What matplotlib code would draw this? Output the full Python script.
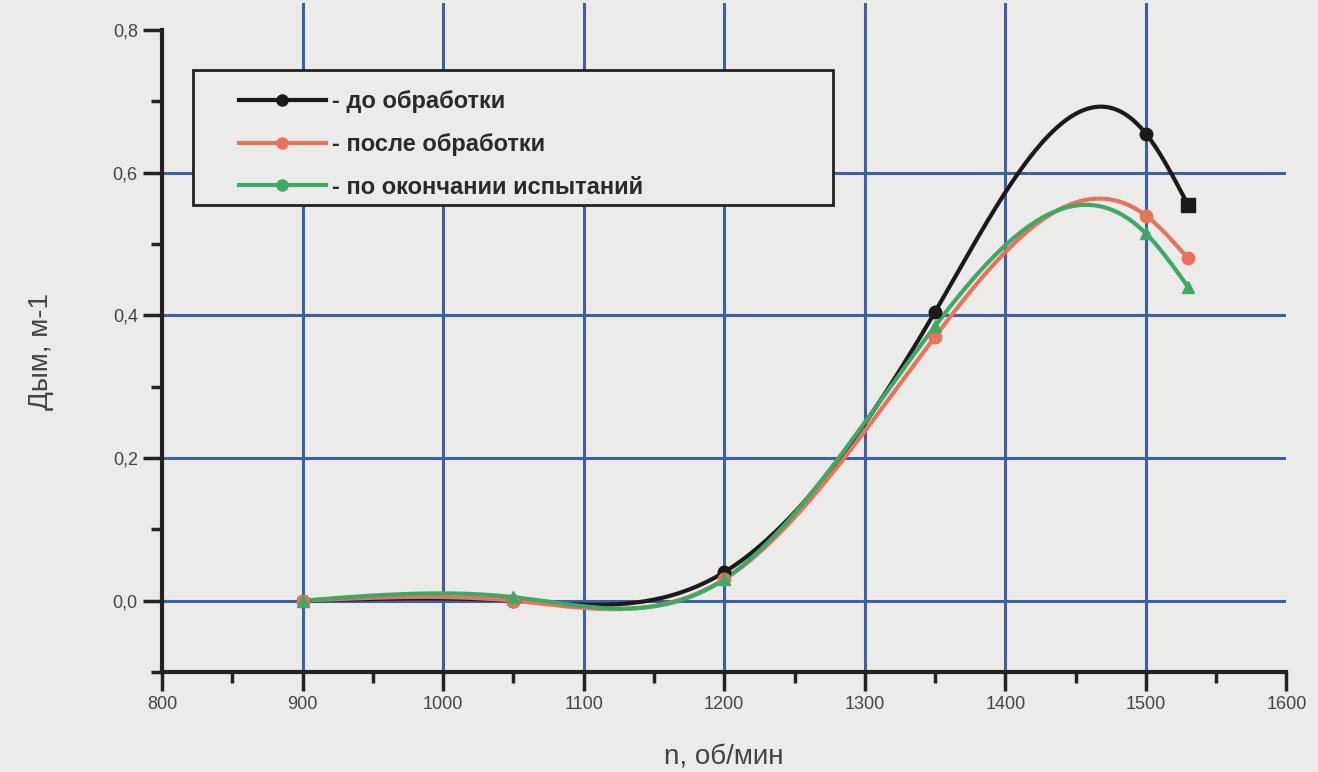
import numpy as np
import matplotlib
matplotlib.use("Agg")
import matplotlib.pyplot as plt
from matplotlib.patches import Rectangle
from matplotlib.ticker import MultipleLocator, FuncFormatter

plt.rcParams['font.family'] = ['Liberation Sans', 'DejaVu Sans']

# частота вращения, об/мин
rpm = [900, 1050, 1200, 1350, 1500, 1530]
# дымность, м-1
smoke_before = [0.0, 0.0, 0.04, 0.405, 0.655, 0.555]
smoke_after = [0.0, 0.0, 0.03, 0.37, 0.54, 0.48]
smoke_end = [0.0, 0.005, 0.03, 0.385, 0.515, 0.44]

labels = ['- до обработки', '- после обработки', '- по окончании испытаний']
colors = ['#1a1a1a', '#e8735c', '#3fa866']
markers = ['o', 'o', '^']

grid_x = [900, 1000, 1100, 1200, 1300, 1400, 1500]
grid_y = [0.0, 0.2, 0.4, 0.6]


def natural_spline(x, y, xs):
    x = np.asarray(x, float)
    y = np.asarray(y, float)
    n = len(x)
    h = np.diff(x)
    A = np.zeros((n, n))
    b = np.zeros(n)
    A[0, 0] = A[-1, -1] = 1
    for i in range(1, n - 1):
        A[i, i - 1] = h[i - 1]
        A[i, i] = 2 * (h[i - 1] + h[i])
        A[i, i + 1] = h[i]
        b[i] = 6 * ((y[i + 1] - y[i]) / h[i] - (y[i] - y[i - 1]) / h[i - 1])
    M = np.linalg.solve(A, b)
    idx = np.clip(np.searchsorted(x, xs) - 1, 0, n - 2)
    x0, x1 = x[idx], x[idx + 1]
    hh = x1 - x0
    t0, t1 = x1 - xs, xs - x0
    return (M[idx] * t0 ** 3 / (6 * hh) + M[idx + 1] * t1 ** 3 / (6 * hh)
            + (y[idx] / hh - M[idx] * hh / 6) * t0
            + (y[idx + 1] / hh - M[idx + 1] * hh / 6) * t1)


bg = '#ebebea'
fig = plt.figure(figsize=(13.18, 7.72), dpi=100, facecolor=bg)
ax = fig.add_axes([0.123, 0.1295, 0.853, 0.8315], facecolor=bg)

# сетка
for gx in grid_x:
    ax.axvline(gx, ymin=0, ymax=1.04, color='#3f5f9f', lw=2.2, zorder=1, clip_on=False)
for gy in grid_y:
    ax.axhline(gy, color='#3f5f9f', lw=2.2, zorder=1)

xs = np.linspace(rpm[0], rpm[-1], 400)
handles = []
for i, (ys, lab, c, m) in enumerate(zip([smoke_before, smoke_after, smoke_end], labels, colors, markers)):
    ax.plot(xs, natural_spline(rpm, ys, xs), color=c, lw=3, zorder=3)
    if i == 0:
        ax.plot(rpm[:-1], ys[:-1], linestyle='none', marker='o', color=c, ms=9, zorder=4)
        ax.plot(rpm[-1:], ys[-1:], linestyle='none', marker='s', color=c, ms=10, zorder=4)
    else:
        ax.plot(rpm, ys, linestyle='none', marker=m, color=c, ms=9, zorder=4)
    h, = ax.plot([], [], color=c, lw=3, marker='o', ms=8, label=lab)
    handles.append(h)

ax.set_xlim(800, 1600)
ax.set_ylim(-0.1, 0.8)
ax.xaxis.set_major_locator(MultipleLocator(100))
ax.xaxis.set_minor_locator(MultipleLocator(50))
ax.yaxis.set_major_locator(MultipleLocator(0.2))
ax.yaxis.set_minor_locator(MultipleLocator(0.1))
ax.yaxis.set_major_formatter(FuncFormatter(lambda v, p: f'{v:.1f}'.replace('.', ',')))

for s in ['top', 'right']:
    ax.spines[s].set_visible(False)
for s in ['left', 'bottom']:
    ax.spines[s].set_linewidth(3)
    ax.spines[s].set_color('#222222')
    ax.spines[s].set_zorder(5)

ax.tick_params(which='major', length=14, width=2.5, color='#222222',
               labelsize=13, labelcolor='#444444')
ax.tick_params(which='minor', length=8, width=2.5, color='#222222')

ax.set_xlabel('n, об/мин', fontsize=20, color='#444444', labelpad=22)
ax.set_ylabel('Дым, м-1', fontsize=20, color='#444444', labelpad=42)

# рамка легенды
ax.add_patch(Rectangle((0.0276, 0.7274), 0.5689, 0.2103, transform=ax.transAxes,
                       facecolor=bg, edgecolor='#222222', lw=2, zorder=6, clip_on=False))
leg = ax.legend(handles=handles, loc='upper left', bbox_to_anchor=(0.068, 0.906),
                borderaxespad=0, borderpad=0, fontsize=17, handlelength=3.7,
                handletextpad=0.25, frameon=False, labelspacing=0.83)
leg.set_zorder(7)
for t in leg.get_texts():
    t.set_color('#2a2a2a')
    t.set_fontweight('bold')

fig.savefig('out.png', dpi=100, facecolor=bg)
